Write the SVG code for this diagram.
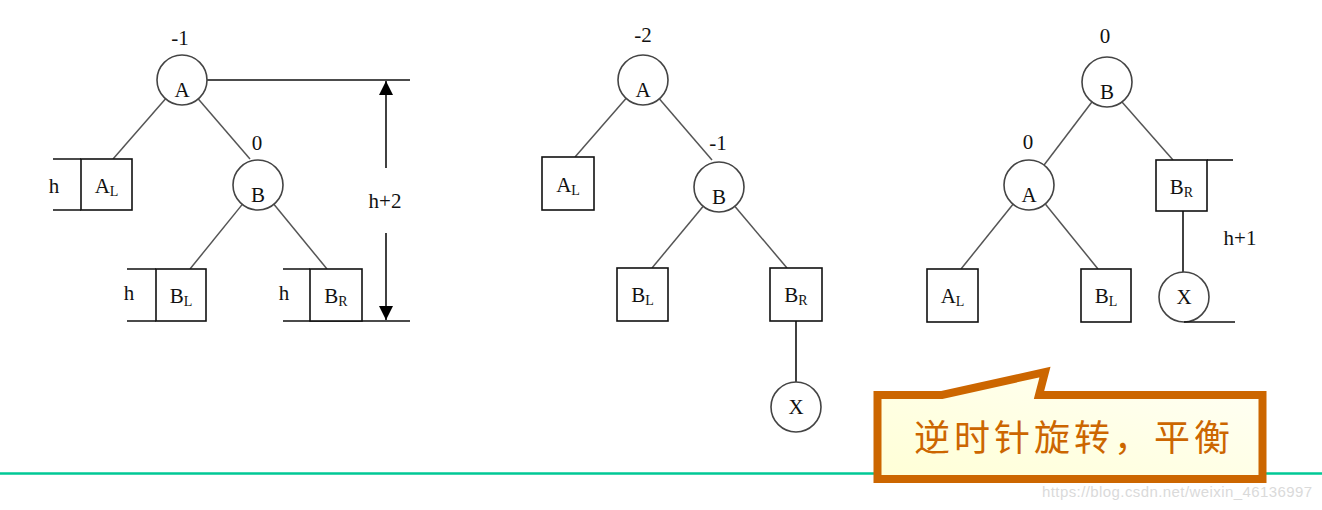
<svg xmlns="http://www.w3.org/2000/svg" width="1322" height="510" viewBox="0 0 1322 510">
<style>
.nd{fill:#fff;stroke:#444;stroke-width:1.6}
.bx{fill:#fff;stroke:#111;stroke-width:1.6}
.ed{stroke:#555;stroke-width:1.5;fill:none}
.ln{stroke:#111;stroke-width:1.6;fill:none}
.t{font-family:"Liberation Serif",serif;font-size:21px;fill:#111;text-anchor:middle}
.s{font-size:14px}
</style>
<defs>
<linearGradient id="cg" x1="0" y1="1" x2="1" y2="0">
<stop offset="0" stop-color="#FFFFD6"/>
<stop offset="1" stop-color="#FFFFF6"/>
</linearGradient>
<marker id="ah" viewBox="0 0 14 14" refX="14" refY="7" markerWidth="14" markerHeight="14" markerUnits="userSpaceOnUse" orient="auto">
<path d="M0,0 L14,7 L0,14 Z" fill="#000"/>
</marker>
</defs>
<line x1="0" y1="473.5" x2="1322" y2="473.5" stroke="#00C896" stroke-width="2.5"/>
<text x="1042" y="497" font-family="Liberation Sans,sans-serif" font-size="15" fill="#DADADA" textLength="270">https://blog.csdn.net/weixin_46136997</text>
<g id="connectors">
<line class="ed" x1="165.6" y1="98.8" x2="113" y2="159"/>
<line class="ed" x1="198.3" y1="99" x2="250" y2="159"/>
<line class="ed" x1="242.3" y1="204.4" x2="190" y2="269"/>
<line class="ed" x1="273.9" y1="204.3" x2="327" y2="269"/>
<line class="ed" x1="626" y1="98.5" x2="575" y2="157"/>
<line class="ed" x1="659.5" y1="99" x2="712" y2="160"/>
<line class="ed" x1="703" y1="206.5" x2="652" y2="268"/>
<line class="ed" x1="735" y1="206.5" x2="787" y2="268"/>
<line class="ln" x1="796" y1="321" x2="796" y2="382"/>
<line class="ed" x1="1091.9" y1="102" x2="1044.1" y2="165"/>
<line class="ed" x1="1122" y1="102" x2="1173" y2="160"/>
<line class="ed" x1="1013" y1="204.3" x2="961" y2="269"/>
<line class="ed" x1="1045.5" y1="204.3" x2="1098" y2="269"/>
<line class="ln" x1="1183" y1="211" x2="1183" y2="272"/>
</g>
<g id="left-dims">
<line class="ln" x1="207" y1="80" x2="410" y2="80"/>
<path class="ln" d="M53,159H81M53,210H81M127,269H156M127,321H156M283,269H310M283,321H410"/>
<line class="ln" x1="386" y1="168" x2="386" y2="81" marker-end="url(#ah)"/>
<line class="ln" x1="386" y1="233" x2="386" y2="320" marker-end="url(#ah)"/>
<text class="t" x="385" y="208">h+2</text>
<text class="t" x="54" y="193">h</text>
<text class="t" x="129" y="300">h</text>
<text class="t" x="284" y="300">h</text>
</g>
<g id="L-A"><circle class="nd" cx="182" cy="80" r="25"/><text class="t" x="182" y="97">A</text><text class="t" x="180" y="45">-1</text></g>
<g id="L-AL"><rect class="bx" x="81" y="159" width="51" height="51"/><text class="t" x="106.5" y="193">A<tspan class="s" dy="3">L</tspan></text></g>
<g id="L-B"><circle class="nd" cx="258" cy="185" r="25"/><text class="t" x="258" y="202">B</text><text class="t" x="257" y="150">0</text></g>
<g id="L-BL"><rect class="bx" x="156" y="269" width="50" height="52"/><text class="t" x="181" y="303">B<tspan class="s" dy="3">L</tspan></text></g>
<g id="L-BR"><rect class="bx" x="310" y="269" width="52" height="52"/><text class="t" x="336" y="303">B<tspan class="s" dy="3">R</tspan></text></g>
<g id="M-A"><circle class="nd" cx="643" cy="80" r="25"/><text class="t" x="643" y="97">A</text><text class="t" x="643" y="42">-2</text></g>
<g id="M-AL"><rect class="bx" x="542" y="157" width="52" height="53"/><text class="t" x="568" y="192">A<tspan class="s" dy="3">L</tspan></text></g>
<g id="M-B"><circle class="nd" cx="719" cy="187" r="25"/><text class="t" x="719" y="204">B</text><text class="t" x="718" y="150">-1</text></g>
<g id="M-BL"><rect class="bx" x="617" y="268" width="51" height="53"/><text class="t" x="642.5" y="302">B<tspan class="s" dy="3">L</tspan></text></g>
<g id="M-BR"><rect class="bx" x="770" y="268" width="52" height="53"/><text class="t" x="796" y="302">B<tspan class="s" dy="3">R</tspan></text></g>
<g id="M-X"><circle class="nd" cx="796" cy="407" r="25"/><text class="t" x="796" y="414">X</text></g>
<g id="R-B"><circle class="nd" cx="1107" cy="82" r="25"/><text class="t" x="1107" y="99">B</text><text class="t" x="1105" y="43">0</text></g>
<g id="R-A"><circle class="nd" cx="1029" cy="185" r="25"/><text class="t" x="1029" y="202">A</text><text class="t" x="1028" y="149">0</text></g>
<g id="R-BR"><rect class="bx" x="1156" y="160" width="51" height="51"/><text class="t" x="1181.5" y="194">B<tspan class="s" dy="3">R</tspan></text><line class="ln" x1="1207" y1="160" x2="1233" y2="160"/></g>
<g id="R-X"><circle class="nd" cx="1184" cy="297" r="25"/><text class="t" x="1184" y="304">X</text><line class="ln" x1="1184" y1="322" x2="1235" y2="322"/><text class="t" x="1240" y="245">h+1</text></g>
<g id="R-AL"><rect class="bx" x="927" y="269" width="51" height="53"/><text class="t" x="952.5" y="303">A<tspan class="s" dy="3">L</tspan></text></g>
<g id="R-BL"><rect class="bx" x="1081" y="269" width="50" height="53"/><text class="t" x="1106" y="303">B<tspan class="s" dy="3">L</tspan></text></g>
<g id="callout">
<path d="M877.5,395 H942 L1045,372 L1039,395 H1262.5 V479 H877.5 Z" fill="url(#cg)" stroke="#CC6600" stroke-width="8" stroke-linejoin="miter" stroke-miterlimit="10"/>
<text x="1074" y="451" font-family="Noto Sans CJK SC,sans-serif" font-size="36" letter-spacing="4" fill="#CC6600" text-anchor="middle">逆时针旋转，平衡</text>
</g>
</svg>
